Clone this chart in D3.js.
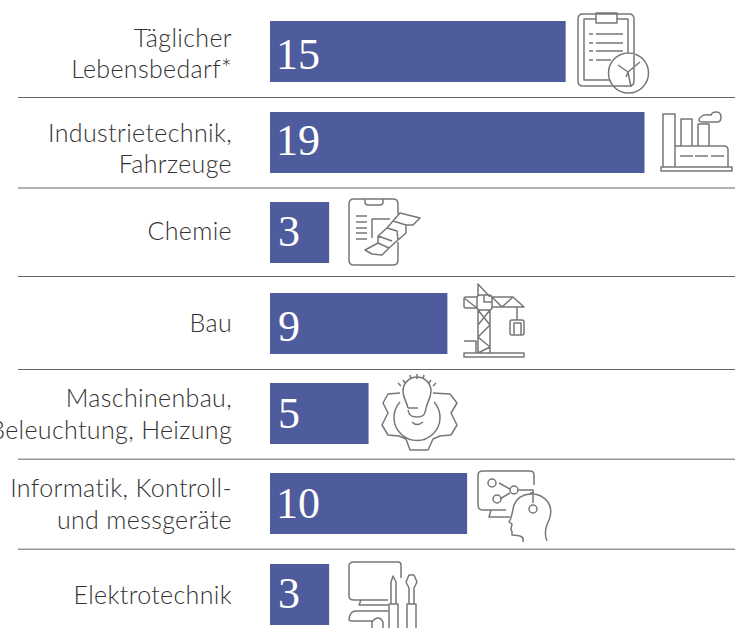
<!DOCTYPE html>
<html><head><meta charset="utf-8">
<script src="https://cdn.jsdelivr.net/npm/d3@7/dist/d3.min.js"></script>
<style>html,body{margin:0;padding:0;background:#fff;overflow:hidden}svg{display:block}</style>
</head><body><svg id="c" width="735" height="628"></svg>
<script>
const categories = [["Täglicher","Lebensbedarf*"],["Industrietechnik,","Fahrzeuge"],["Chemie"],["Bau"],["Maschinenbau,","Beleuchtung, Heizung"],["Informatik, Kontroll-","und messgeräte"],["Elektrotechnik"]];
const values = [15,19,3,9,5,10,3];
const barTops = [21,112,202,293,383,473,564];
const ruleYs = [97.5,188,276.5,369.5,459.2,549.2];
const labelBase = [[47,78],[141.5,172.5],[240],[332],[407,439],[497,529],[604]];
const numberBase = [69,155,246,341,428,518,608];
const icons = [
 "M583 14H629Q634 14 634 19V81Q634 86 629 86H583Q578 86 578 81V19Q578 14 583 14ZM596 19H584V80H610M617 19H628V53M596 13H617V23H596ZM589 34H593M596 34H623M589 43H593M596 43H623M589 51H593M596 51H623M589 60H593M596 60H611M648.5 73A20 20 0 1 1 608.5 73A20 20 0 1 1 648.5 73ZM628 72L640 62M628 72L618 65M628 72L631 87M628 72L626 77",
 "M661 167H732V171H661ZM663 167V114H675V167M681 146V119H692V146M698 146V124H709V146M675 146H724Q728 146 728 150V167M680 156H693M695 156H708M711 156H724M703 122H717Q721 122 721 117Q721 112 716 112Q712 112 711 115Q704 114 702 116Q699 118 699 120Q699 122 703 122Z",
 "M398 242V260Q398 265 393 265H354Q349 265 349 260V204Q349 199 354 199H393Q398 199 398 204V214M365 199V202Q365 205 368 205H380Q383 205 383 202V199M356 216H367M356 222H367M356 228H367M356 233H367M356 239H367M372 238V219H390M365 250L378 243L389 248L382 255L372 254ZM378 243L378 236L387 228L397 231L398 240L389 248M378 236L392 241M387 228L393 221L406 225L406 233L398 240M393 221L400 213L420 218L413 225L406 225",
 "M464 353H524V357H464ZM478 353V310H490V353M478 310L490 325L478 337L490 347L478 353M490 310L478 325M490 325L478 337M464 341H476V353M477 298Q477 295 480 295H489Q492 295 492 298V307Q492 310 489 310H480Q477 310 477 307ZM484 295V302H492M478 295V284L490 297M477 297H466Q464 297 464 299V306Q464 308 466 308H477M464 298L477 308M492 297H513L524 307H492M492 297L502 307L513 297M517 307V320M510 322Q510 320 512 320H522Q524 320 524 322V333Q524 335 522 335H512Q510 335 510 333ZM514 335V323H521V335",
 "M408 408C406 400 403 398 403 391A14 14 0 0 1 431 391C431 398 428 400 426 408M408 408H418M408 410C409 416 412 417 417 417C422 417 425 416 426 408M412 422Q417 427 423 422M417 374V379M410 375L411 379M424 375L423 379M403 380L405 383M431 380L429 383M398 383L401 386M436 383L433 386M400 402A23 23 0 1 0 434 402M400 393L388 394L383 403L388 413L382 425L388 435L399 436L406 439L410 450H428L433 439L440 436L451 435L457 425L451 413L457 403L450 394L433 393",
 "M506 510H483Q478 510 478 505V475Q478 471 483 471H530Q534 471 534 475V485M534 493H530M491 510L489 517H510M499 483L510 489M500 499L510 493M488 483A4 4 0 1 1 496 483A4 4 0 1 1 488 483ZM510 490A4 4 0 1 1 518 490A4 4 0 1 1 510 490ZM493 499A4 4 0 1 1 501 499A4 4 0 1 1 493 499ZM518 490H533V503M529 509A4 4 0 1 1 537 509A4 4 0 1 1 529 509ZM547 541Q543 532 549 520Q553 510 548 502Q541 493 530 494Q518 495 514 505L511 518L509 522L512 524L511 529L512 532L512 535Q514 535 520 536Q524 537 523 542",
 "M388 600H354Q349 600 349 596V566Q349 562 354 562H398Q401 562 401 565V578M361 600L359 605H388M388 611H356Q350 611 349 619Q349 621 352 621H373M372 628V622Q375 618 378 618Q381 618 383 622V628M389 628V604H398V628M391 604V582L393 576L396 582V604M407 628V604H416V628M409 604V588L406 582L409 575H414L417 582L414 588V604"
];
const svg = d3.select("#c");
const x = d3.scaleLinear().domain([0,19]).range([270,644.5]);
svg.append("g").selectAll("line").data(ruleYs).join("line")
  .attr("x1",18).attr("x2",735).attr("y1",d=>d).attr("y2",d=>d)
  .attr("stroke","#666").attr("stroke-width",1);
svg.append("g").selectAll("rect").data(values).join("rect")
  .attr("x",x(0)).attr("y",(d,i)=>barTops[i]).attr("width",d=>x(d)-x(0)).attr("height",61).attr("fill","#4e5b9d");
svg.append("g").selectAll("text").data(values).join("text")
  .attr("x",d=>d<10?278:276).attr("y",(d,i)=>numberBase[i]).text(d=>d)
  .attr("font-family","'Liberation Serif',serif").attr("font-size",44).attr("fill","#fff");
svg.append("g").selectAll("path").data(icons).join("path").attr("d",d=>d)
  .attr("fill","none").attr("stroke","#777").attr("stroke-width",1.5).attr("stroke-linejoin","round");
const lab=svg.append("g").attr("font-family","Lato,sans-serif").attr("font-weight",300).attr("font-size",25).attr("fill","#333").attr("text-anchor","end").attr("letter-spacing","0.35");
categories.forEach((c,i)=>{c.forEach((t,j)=>{
  lab.append("text").attr("x",232).attr("y",labelBase[i][j]).text(t);
});});
</script></body></html>
